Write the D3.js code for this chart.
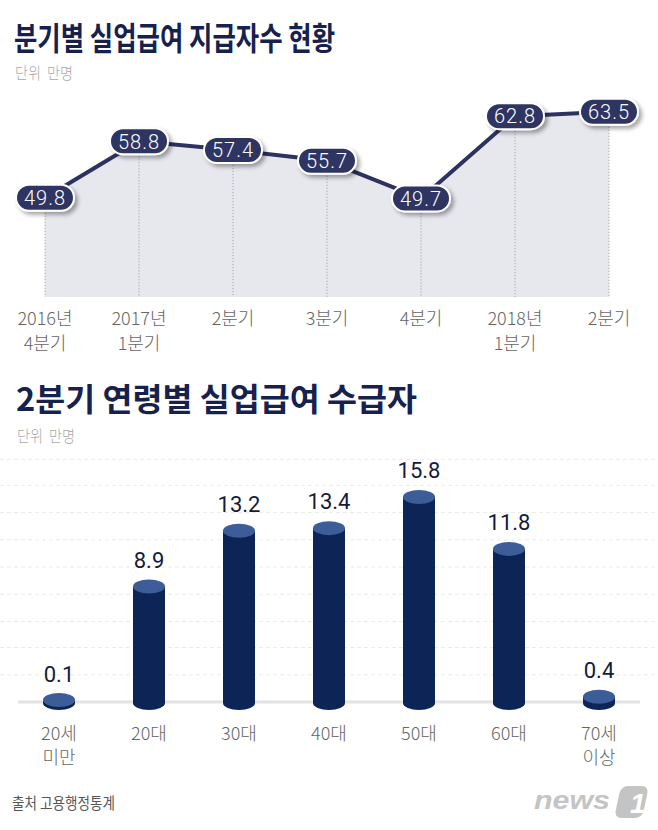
<!DOCTYPE html>
<html><head><meta charset="utf-8">
<script src="https://cdn.jsdelivr.net/npm/d3@7"></script>
<style>
html,body{margin:0;padding:0;background:#fff;}
svg{display:block;}
</style></head>
<body>
<script>
// ---- Data ----
const quarterLabels = [["2016년","4분기"],["2017년","1분기"],["2분기"],["3분기"],["4분기"],["2018년","1분기"],["2분기"]];
const quarterValues = [49.8, 58.8, 57.4, 55.7, 49.7, 62.8, 63.5];

const ageLabels = [["20세","미만"],["20대"],["30대"],["40대"],["50대"],["60대"],["70세","이상"]];
const ageValues = [0.1, 8.9, 13.2, 13.4, 15.8, 11.8, 0.4];
const gridValues = [2.1, 4.2, 6.2, 8.3, 10.4, 12.5, 14.6, 16.7, 18.7];

const title1 = "분기별 실업급여 지급자수 현황";
const title2 = "2분기 연령별 실업급여 수급자";
const unitText = "단위  만명";
const sourceText = "출처 고용행정통계";

// ---- Setup ----
const W = 658, H = 830;
const KR = "'Noto Sans CJK KR','Noto Sans',sans-serif";
const NUM = "Roboto,'Noto Sans',sans-serif";
const svg = d3.select("body").append("svg").attr("width", W).attr("height", H);

const defs = svg.append("defs");
const f = defs.append("filter").attr("id","sh").attr("x","-30%").attr("y","-50%").attr("width","170%").attr("height","220%");
f.append("feDropShadow").attr("dx",3).attr("dy",3).attr("stdDeviation",2).attr("flood-color","#000").attr("flood-opacity",0.35);

// Titles
svg.append("text").attr("x",14).attr("y",50).text(title1)
  .attr("font-family",KR).attr("font-weight",700).attr("font-size",32).attr("fill","#16214d")
  .attr("textLength",321).attr("lengthAdjust","spacingAndGlyphs");
svg.append("text").attr("x",15).attr("y",79).text(unitText)
  .attr("font-family",KR).attr("font-weight",300).attr("font-size",16).attr("fill","#a8a8a8")
  .attr("xml:space","preserve").attr("textLength",58).attr("lengthAdjust","spacingAndGlyphs");

// ---- Line chart ----
const xL = d3.scalePoint().domain(d3.range(quarterValues.length)).range([45,609]);
const yL = d3.scaleLinear().domain([34,70]).range([297,71]);

const area = d3.area().x((d,i)=>xL(i)).y0(yL(34)).y1(d=>yL(d));
svg.append("path").datum(quarterValues).attr("d",area).attr("fill","#e7e8ee");

svg.append("g").selectAll("line").data(quarterValues).join("line")
  .attr("x1",(d,i)=>xL(i)).attr("x2",(d,i)=>xL(i))
  .attr("y1",d=>yL(d)).attr("y2",yL(34))
  .attr("stroke","#999").attr("stroke-width",1).attr("stroke-dasharray","1,2");

const line = d3.line().x((d,i)=>xL(i)).y(d=>yL(d));
svg.append("path").datum(quarterValues).attr("d",line).attr("fill","none")
  .attr("stroke","#2d3260").attr("stroke-width",4).attr("stroke-linejoin","round");

const pills = svg.append("g").selectAll("g").data(quarterValues).join("g")
  .attr("transform",(d,i)=>`translate(${xL(i)},${yL(d)})`);
pills.append("rect").attr("x",-29).attr("y",-13).attr("width",58).attr("height",26).attr("rx",13)
  .attr("fill","#2e3462").attr("stroke","#fff").attr("stroke-width",2).attr("filter","url(#sh)");
pills.append("text").attr("text-anchor","middle").attr("dy","0.36em")
  .attr("font-family",NUM).attr("font-weight",300).attr("font-size",20).attr("letter-spacing",1).attr("fill","#fff")
  .text(d=>d.toFixed(1));

const xlab = svg.append("g").selectAll("text").data(quarterLabels).join("text")
  .attr("x",(d,i)=>xL(i)).attr("y",325).attr("text-anchor","middle")
  .attr("font-family",KR).attr("font-weight",300).attr("font-size",18).attr("fill","#666");
xlab.selectAll("tspan").data(d=>d).join("tspan")
  .attr("x",function(){return d3.select(this.parentNode).attr("x");})
  .attr("dy",(d,i)=>i?25:0).text(d=>d);

// ---- Bar chart ----
svg.append("text").attr("x",16).attr("y",411).text(title2)
  .attr("font-family",KR).attr("font-weight",700).attr("font-size",32).attr("fill","#16214d")
  .attr("textLength",401).attr("lengthAdjust","spacingAndGlyphs");
svg.append("text").attr("x",17).attr("y",442).text(unitText)
  .attr("font-family",KR).attr("font-weight",300).attr("font-size",16).attr("fill","#a8a8a8")
  .attr("xml:space","preserve").attr("textLength",58).attr("lengthAdjust","spacingAndGlyphs");

const xB = d3.scalePoint().domain(d3.range(ageValues.length)).range([59,599]);
const yB = d3.scaleLinear().domain([0,15.8]).range([702,497]);

svg.append("g").selectAll("line").data(gridValues).join("line")
  .attr("x1",0).attr("x2",656).attr("y1",d=>yB(d)).attr("y2",d=>yB(d))
  .attr("stroke","#ebebeb").attr("stroke-width",1).attr("stroke-dasharray","4,3");
svg.append("line").attr("x1",18).attr("x2",640).attr("y1",yB(0)).attr("y2",yB(0))
  .attr("stroke","#e2e2e2").attr("stroke-width",3);

const rx = 16, ry = 7;
const bars = svg.append("g").selectAll("g").data(ageValues).join("g")
  .attr("transform",(d,i)=>`translate(${xB(i)},0)`);
bars.append("ellipse").attr("cx",0).attr("cy",yB(0)+1).attr("rx",rx).attr("ry",ry).attr("fill","#0c2556");
bars.append("rect").attr("x",-rx).attr("width",2*rx).attr("y",d=>yB(d)).attr("height",d=>yB(0)+1-yB(d)).attr("fill","#0c2556");
bars.append("ellipse").attr("cx",0).attr("cy",d=>Math.min(yB(d),yB(0)-2)).attr("rx",rx).attr("ry",ry).attr("fill","#3d5d98");
bars.append("text").attr("text-anchor","middle").attr("y",d=>yB(d)-19)
  .attr("font-family",NUM).attr("font-weight",400).attr("font-size",22).attr("fill","#141b3a")
  .text(d=>d.toFixed(1));

const blab = svg.append("g").selectAll("text").data(ageLabels).join("text")
  .attr("x",(d,i)=>xB(i)).attr("y",740).attr("text-anchor","middle")
  .attr("font-family",KR).attr("font-weight",300).attr("font-size",18).attr("fill","#666");
blab.selectAll("tspan").data(d=>d).join("tspan")
  .attr("x",function(){return d3.select(this.parentNode).attr("x");})
  .attr("dy",(d,i)=>i?24:0).text(d=>d);

// ---- Footer ----
svg.append("text").attr("x",12).attr("y",809).text(sourceText)
  .attr("font-family",KR).attr("font-size",16).attr("fill","#555")
  .attr("textLength",103).attr("lengthAdjust","spacingAndGlyphs");

const logo = svg.append("g");
logo.append("text").attr("x",534).attr("y",809).text("news")
  .attr("font-family","'Liberation Sans',Arial,sans-serif").attr("font-weight",700).attr("font-style","italic")
  .attr("font-size",25).attr("fill","#c4c4c4").attr("textLength",76).attr("lengthAdjust","spacingAndGlyphs");
logo.append("rect").attr("x",618).attr("y",786).attr("width",28).attr("height",32).attr("rx",7)
  .attr("fill","#c4c4c4").attr("transform","skewX(-12) translate(170,0)");
logo.append("text").attr("x",630).attr("y",813).text("1")
  .attr("font-family","'Liberation Sans',Arial,sans-serif").attr("font-weight",700).attr("font-style","italic")
  .attr("font-size",28).attr("fill","#fff");
</script>
</body></html>
